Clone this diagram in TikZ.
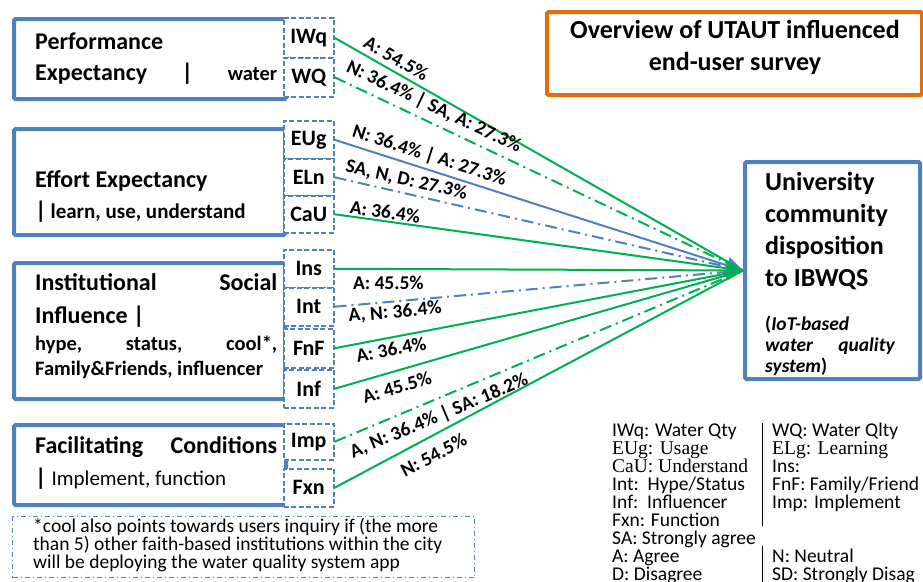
\documentclass[tikz,border=0pt]{standalone}
\usepackage{fontspec}
\setmainfont{Carlito}
\newfontfamily\timesfam{Liberation Serif}
\usetikzlibrary{arrows.meta}
\definecolor{bblue}{HTML}{4F81BD}
\definecolor{ggreen}{HTML}{00B050}
\definecolor{oorange}{HTML}{E46C0A}
\newcommand{\rowstack}[2]{\vtop{\baselineskip=#1\lineskiplimit=-100pt\lineskip=0pt\halign{##\hfil\cr#2\crcr}}}
\newcommand{\fsz}[1]{\fontsize{#1}{#1}\selectfont}
\begin{document}
\begin{tikzpicture}[x=1pt,y=-1pt,
 bigbox/.style={draw=bblue,line width=4pt,rounded corners=1.5pt,fill=white,inner sep=0pt,anchor=north west},
 tagbox/.style={draw=bblue,line width=1.5pt,dash pattern=on 5pt off 2.5pt,fill=white,minimum width=50pt,inner sep=0pt,anchor=north west,font=\bfseries\fsz{22}},
 conn/.style={line width=2pt},
 gsolid/.style={conn,draw=ggreen},
 gdash/.style={conn,draw=ggreen,dash pattern=on 12pt off 5pt on 2pt off 5pt},
 bsolid/.style={conn,draw=bblue},
 bdash/.style={conn,draw=bblue,dash pattern=on 12pt off 5pt on 2pt off 5pt},
 lbl/.style={font=\bfseries\fsz{19.5},sloped,inner sep=1pt},
 txt/.style={anchor=base west,inner sep=0pt},
 bigtxt/.style={txt,font=\bfseries\fsz{24}},
 tiphead/.style={-{Triangle[length=16pt,width=20pt]}},
]
\useasboundingbox (0,0) rectangle (923,581);

% construct boxes
\node[bigbox,minimum width=272pt,minimum height=80pt] (pe) at (12,17) {};
\node[bigbox,minimum width=271pt,minimum height=106pt] (ee) at (12,127) {};
\node[bigbox,minimum width=271pt,minimum height=136pt] (si) at (12,261) {};
\node[bigbox,minimum width=272pt,minimum height=80pt] (fc) at (12,423) {};

% tags
\node[tagbox,minimum height=40pt] (iwq) at (283,17) {IWq};
\node[tagbox,minimum height=39pt] (wq) at (283,57) {WQ};
\node[tagbox,minimum height=38pt] (eug) at (283,120) {EUg};
\node[tagbox,minimum height=37pt] (eln) at (283,158) {ELn};
\node[tagbox,minimum height=37pt] (cau) at (283,195) {CaU};
\node[tagbox,minimum height=38pt] (ins) at (283,249) {Ins};
\node[tagbox,minimum height=38pt] (int) at (283,287) {Int};
\node[tagbox,minimum height=39pt] (fnf) at (283,328) {FnF};
\node[tagbox,minimum height=38pt] (inf) at (283,369) {Inf};
\node[tagbox,minimum height=36pt] (imp) at (283,423) {Imp};
\node[tagbox,minimum height=38pt] (fxn) at (283,468) {Fxn};

% target and title
\node[bigbox,minimum width=175pt,minimum height=217pt] (univ) at (743,160) {};
\node[draw=oorange,line width=4pt,rounded corners=1.5pt,minimum width=375pt,minimum height=83pt,anchor=north west,inner sep=0pt] (title) at (545,10) {};

% connectors
\draw[gsolid] (iwq.east) -- node[lbl,above=4pt,pos=0.136]{A: 54.5\%} (univ.west);
\draw[gdash] (wq.east) -- node[lbl,above=5pt,pos=0.227]{N: 36.4\% | SA, A: 27.3\%} (univ.west);
\draw[bsolid] (eug.east) -- node[lbl,above=3pt,pos=0.222]{N: 36.4\% | A: 27.3\%} (univ.west);
\draw[bdash,tiphead] (eln.east) -- node[lbl,above=3pt,pos=0.169]{SA, N, D: 27.3\%} (univ.west);
\draw[gsolid] (cau.east) -- node[lbl,above=0.5pt,pos=0.121]{A: 36.4\%} (univ.west);
\draw[gsolid,tiphead] (ins.east) -- node[lbl,below=5pt,pos=0.132]{A: 45.5\%} (univ.west);
\draw[bdash] (int.east) -- node[lbl,below=1pt,pos=0.146]{A, N: 36.4\%} (univ.west);
\draw[gsolid] (fnf.east) -- node[lbl,below=3pt,pos=0.133]{A: 36.4\%} (univ.west);
\draw[gsolid] (inf.east) -- node[lbl,below=7pt,pos=0.142]{A: 45.5\%} (univ.west);
\draw[gdash] (imp.east) -- node[lbl,below=6pt,pos=0.240]{A, N: 36.4\% | SA: 18.2\%} (univ.west);
\draw[gsolid] (fxn.east) -- node[lbl,below=9pt,pos=0.222]{N: 54.5\%} (univ.west);

% construct texts
\node[bigtxt] (pet) at (35,49) {\rowstack{31pt}{Performance\cr\makebox[242pt][s]{Expectancy | {\fsz{20.5}water}}}};
\node[bigtxt] (eet) at (35,187) {\rowstack{31pt}{Effort Expectancy\cr|\hspace{4pt}{\fsz{21}learn, use, understand}}};
\node[bigtxt] (sit1) at (35,290) {\rowstack{33pt}{\makebox[242pt][s]{Institutional Social}\cr Influence |}};
\node[txt,font=\bfseries\fsz{20.5}] (sit2) at (35,350) {\rowstack{25pt}{\makebox[242pt][s]{hype, status, cool*,}\cr Family\&Friends, influencer}};
\node[bigtxt] (fct) at (35,453) {\rowstack{32pt}{\makebox[242pt][s]{Facilitating Conditions}\cr|\hspace{5pt}{\mdseries\fsz{21}Implement, function}}};

% title text
\node[anchor=base,inner sep=0pt,font=\bfseries\fsz{26}] (tt1) at (735,38) {Overview of UTAUT influenced};
\node[anchor=base,inner sep=0pt,font=\bfseries\fsz{26}] (tt2) at (735,70) {end-user survey};

% target text
\node[txt,font=\bfseries\fsz{26}] (ut) at (765,190) {\rowstack{32.3pt}{University\cr community\cr disposition\cr to IBWQS}};
\node[txt,font=\bfseries\fsz{19.5}] (ui) at (765,330) {\rowstack{21pt}{(\textit{IoT-based}\cr\makebox[130pt][s]{\textit{water quality}}\cr\textit{system})}};

% legend
\node[txt,font=\fsz{19.5}] (legl) at (612,436) {\rowstack{18pt}{IWq: Water Qty\cr{\timesfam EUg: Usage}\cr{\timesfam CaU: Understand}\cr Int:\ \ Hype/Status\cr Inf:\ \ Influencer\cr Fxn: Function\cr SA: Strongly agree\cr A: Agree\cr D: Disagree}};
\node[txt,font=\fsz{19.5}] (legr) at (772,436) {\rowstack{18pt}{WQ: Water Qlty\cr{\timesfam ELg: Learning}\cr Ins:\cr FnF: Family/Friend\cr Imp: Implement\cr\cr\cr N: Neutral\cr SD: Strongly Disag}};
\coordinate (s1) at (762,423);
\coordinate (s2) at (762,526);
\coordinate (s3) at (762,546);
\coordinate (s4) at (762,585);
\draw[line width=1pt] (s1) -- (s2);
\draw[line width=1pt] (s3) -- (s4);

% note
\node[draw=bblue,line width=1pt,dash pattern=on 5pt off 3pt on 1pt off 3pt,minimum width=462pt,minimum height=61pt,anchor=north west,inner sep=0pt] (note) at (12,516) {};
\node[txt,font=\fsz{19.5}] (notet) at (33,532) {\rowstack{18pt}{*cool also points towards users inquiry if (the more\cr than 5) other faith-based institutions within the city\cr will be deploying the water quality system app}};
\end{tikzpicture}
\end{document}
